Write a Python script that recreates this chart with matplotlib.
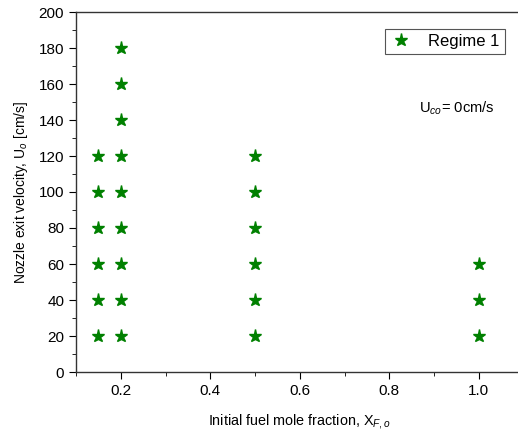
import matplotlib
matplotlib.use("Agg")
import matplotlib.pyplot as plt
from matplotlib.ticker import MultipleLocator, FormatStrFormatter

plt.rcParams['font.family'] = ['Liberation Sans', 'DejaVu Sans']
plt.rcParams['mathtext.fontset'] = 'custom'
plt.rcParams['mathtext.rm'] = 'Liberation Sans'
plt.rcParams['mathtext.it'] = 'Liberation Sans:italic'

x_fraction = [0.15]*6 + [0.2]*9 + [0.5]*6 + [1.0]*3
u_velocity = [20, 40, 60, 80, 100, 120,
              20, 40, 60, 80, 100, 120, 140, 160, 180,
              20, 40, 60, 80, 100, 120,
              20, 40, 60]
series_label = "Regime 1"

fig = plt.figure(figsize=(5.18, 4.34), dpi=100)
ax = fig.add_axes([76/518, 1-372/434, 447.5/518, 360/434])
ax.plot(x_fraction, u_velocity, linestyle='none', marker='*', color='#008000',
        markersize=9.5, label=series_label)
ax.set_xlim(0.1, 1.1)
ax.set_ylim(0, 200)
ax.xaxis.set_major_locator(MultipleLocator(0.2))
ax.xaxis.set_minor_locator(MultipleLocator(0.1))
ax.yaxis.set_major_locator(MultipleLocator(20))
ax.yaxis.set_minor_locator(MultipleLocator(10))
ax.tick_params(which='both', direction='out', labelsize=11)
ax.tick_params(which='major', length=5)
ax.tick_params(which='minor', length=3)
ax.xaxis.set_major_formatter(FormatStrFormatter('%.1f'))
ax.set_xlabel(r"Initial fuel mole fraction, X$_{F,o}$", fontsize=10.4, labelpad=10)
ax.set_ylabel(r"Nozzle exit velocity, U$_o$ [cm/s]", fontsize=10, labelpad=6)
for s in ax.spines.values():
    s.set_linewidth(1.0)
    s.set_color('#333333')
leg = ax.legend(loc='upper left', bbox_to_anchor=(309/447.5, 1-17/360), fontsize=12,
                fancybox=False, framealpha=1, edgecolor='#555555',
                handletextpad=1.0, borderpad=0.3, handlelength=1.3, borderaxespad=0)
leg.get_frame().set_linewidth(0.8)
ax.text((419-76)/447.5, (372-108)/360, r"U$_{co}$= 0cm/s", fontsize=10.6,
        transform=ax.transAxes, va='center', ha='left')
fig.savefig("out.png", dpi=100)
